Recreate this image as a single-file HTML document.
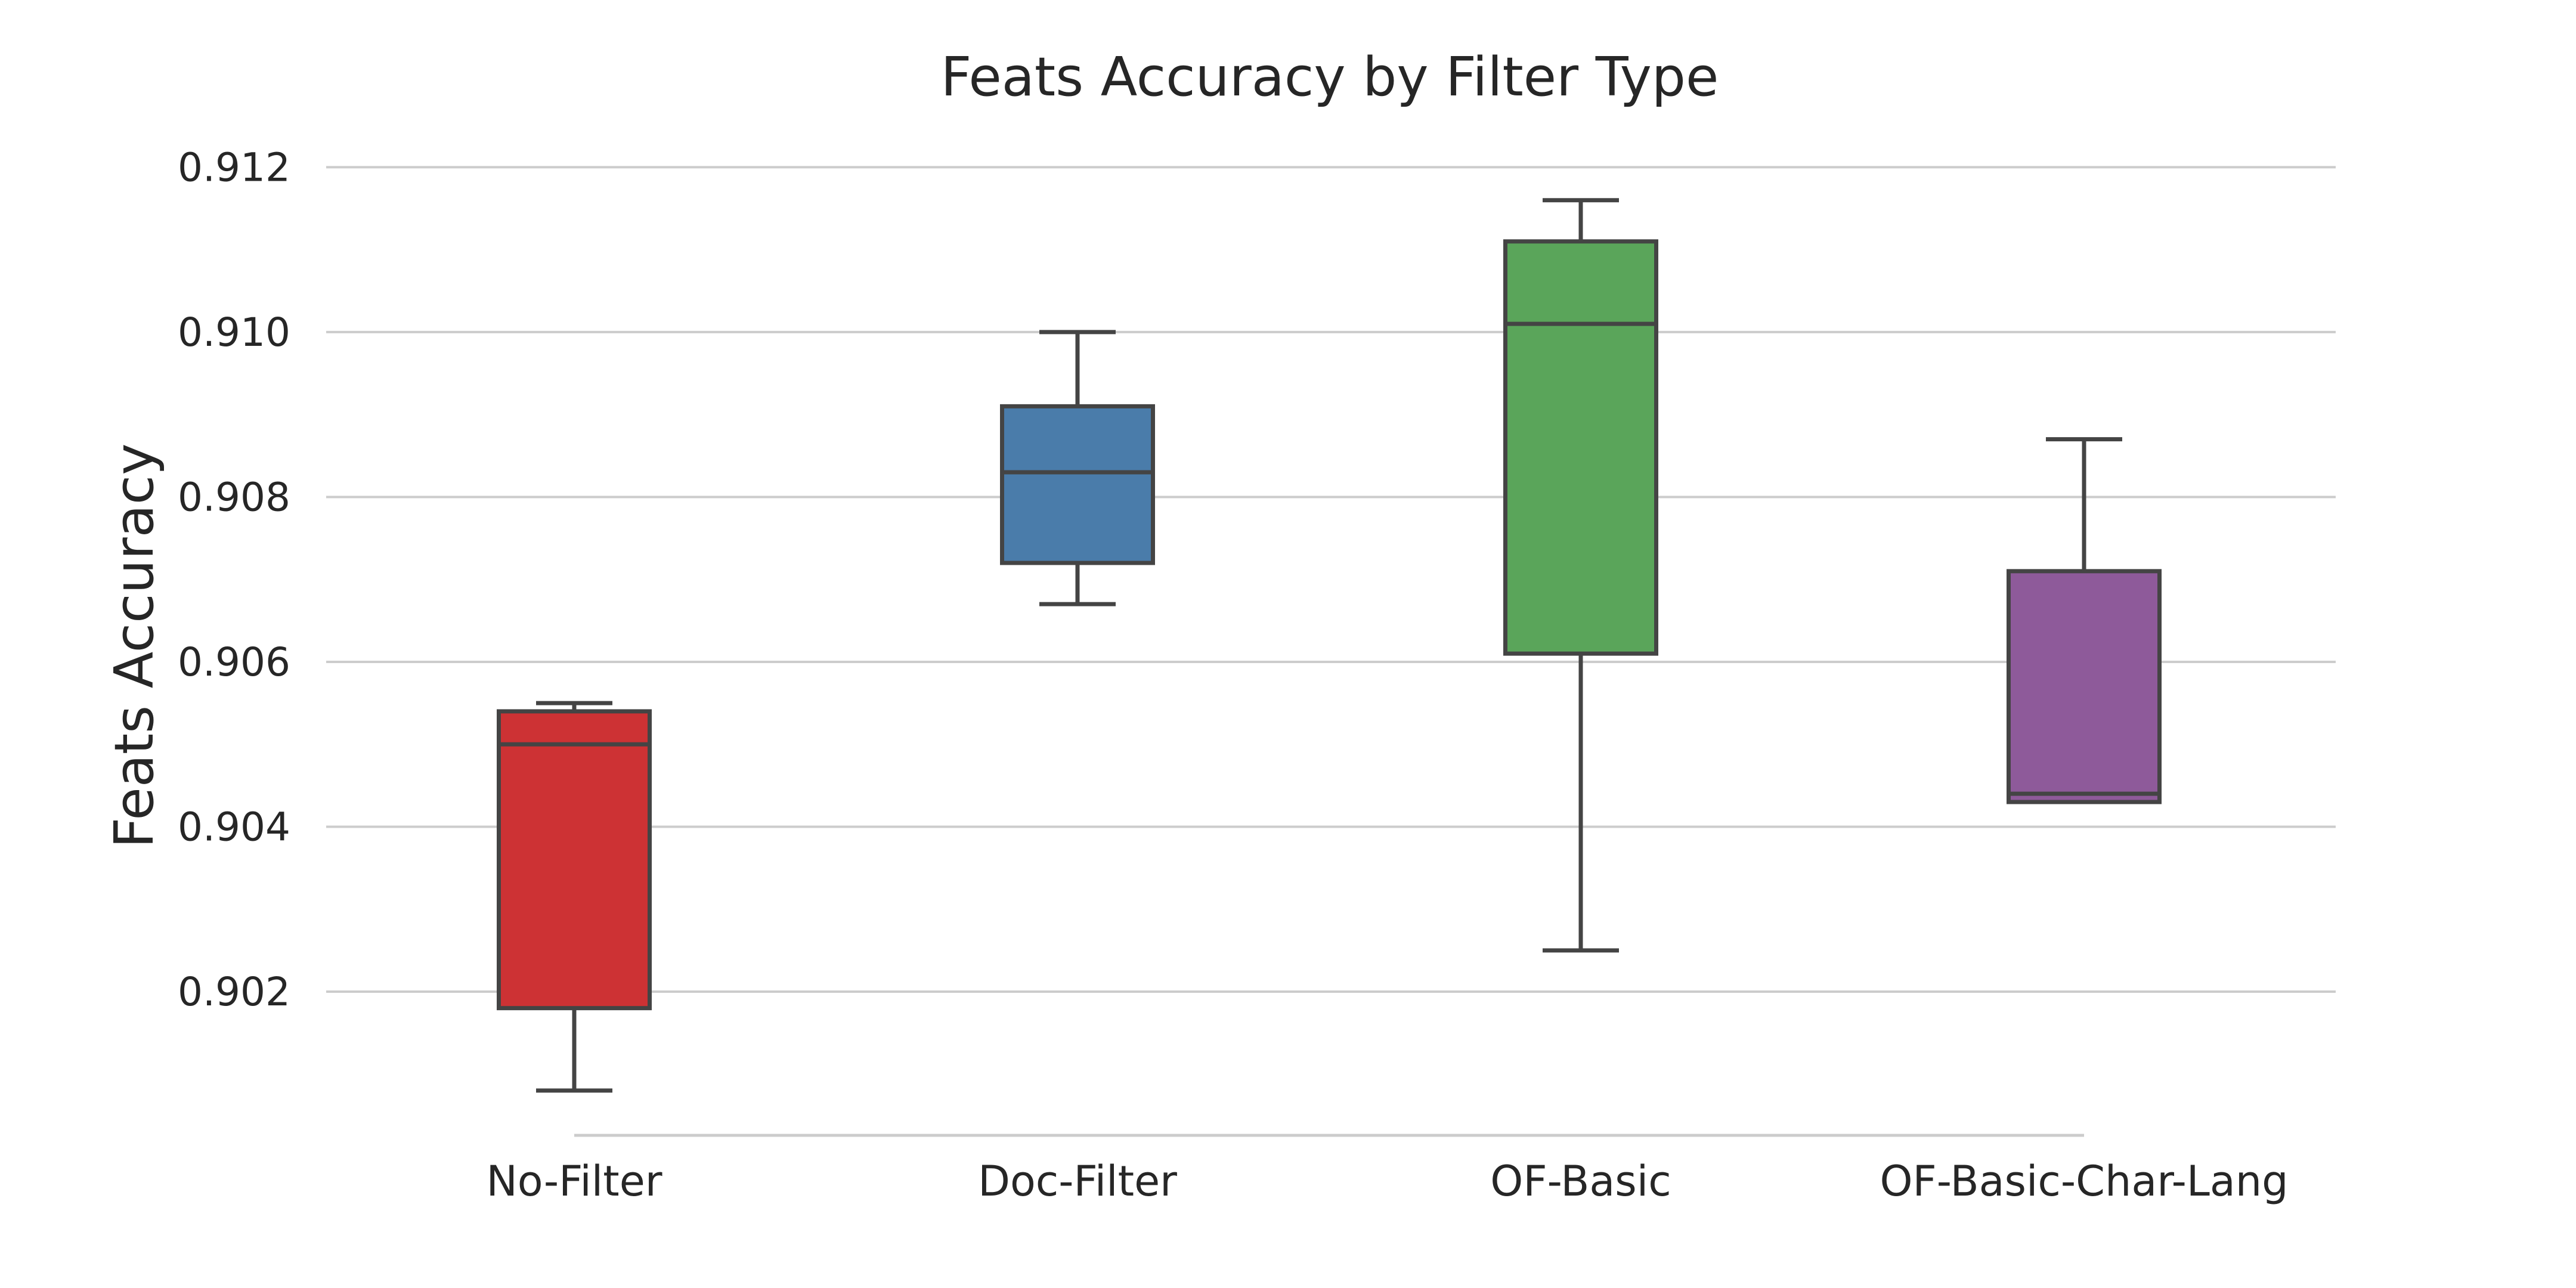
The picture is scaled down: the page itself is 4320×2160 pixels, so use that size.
<!DOCTYPE html>
<html><head><meta charset="utf-8"><style>
html,body{margin:0;padding:0;background:#fff;}
svg{display:block;font-family:"DejaVu Sans","Liberation Sans",sans-serif;}
</style></head><body>
<svg id="chart" width="4320" height="2160" viewBox="0 0 4320 2160">
<rect width="4320" height="2160" fill="#fff"/>
<text x="2230" y="160" text-anchor="middle" font-size="90" fill="#262626">Feats Accuracy by Filter Type</text>
<text transform="translate(256,1083) rotate(-90)" text-anchor="middle" font-size="90" fill="#262626">Feats Accuracy</text>
<g id="grid"></g>
<g id="boxes"></g>
</svg>
<script>
const categories = ["No-Filter","Doc-Filter","OF-Basic","OF-Basic-Char-Lang"];
const whiskerLow = [0.9008,0.9067,0.9025,0.9043];
const q1 = [0.9018,0.9072,0.9061,0.9043];
const median = [0.9050,0.9083,0.9101,0.9044];
const q3 = [0.9054,0.9091,0.9111,0.9071];
const whiskerHigh = [0.9055,0.9100,0.9116,0.9087];
const yTicks = [0.902,0.904,0.906,0.908,0.910,0.912];
const colors = ["#cd3234","#4a7caa","#5aa55a","#8e5a9a"];

const NS="http://www.w3.org/2000/svg";
function y(v){return 280.4+(0.912-v)/0.010*(1663-280.4);}
function x(i){return 963+i*844;}
function el(tag,attrs,parent){const e=document.createElementNS(NS,tag);for(const k in attrs)e.setAttribute(k,attrs[k]);parent.appendChild(e);return e;}
const grid=document.getElementById('grid'), boxes=document.getElementById('boxes');
yTicks.forEach((t,i)=>{
  const l=el('line',{x1:547,x2:3917,y1:y(t),y2:y(t),stroke:'#cccccc','stroke-width':4},grid);
  
  
  const tx=el('text',{x:487,y:y(t)+23,'text-anchor':'end','font-size':66,fill:'#262626'},grid);
  tx.textContent=t.toFixed(3);
  
  
});
const ax=el('line',{x1:x(0),x2:x(categories.length-1),y1:1904,y2:1904,stroke:'#cccccc','stroke-width':5},grid);


const bw=253, cw=128, st='#444444', sw=7;
categories.forEach((c,i)=>{
  const cx=x(i);
  const g=el('g',{},boxes);
  
  
  el('line',{x1:cx,x2:cx,y1:y(whiskerLow[i]),y2:y(q1[i]),stroke:st,'stroke-width':sw},g);
  el('line',{x1:cx,x2:cx,y1:y(q3[i]),y2:y(whiskerHigh[i]),stroke:st,'stroke-width':sw},g);
  el('line',{x1:cx-cw/2,x2:cx+cw/2,y1:y(whiskerLow[i]),y2:y(whiskerLow[i]),stroke:st,'stroke-width':sw},g);
  el('line',{x1:cx-cw/2,x2:cx+cw/2,y1:y(whiskerHigh[i]),y2:y(whiskerHigh[i]),stroke:st,'stroke-width':sw},g);
  el('rect',{x:cx-bw/2,y:y(q3[i]),width:bw,height:Math.max(0,y(q1[i])-y(q3[i])),fill:colors[i],stroke:st,'stroke-width':sw},g);
  el('line',{x1:cx-bw/2,x2:cx+bw/2,y1:y(median[i]),y2:y(median[i]),stroke:st,'stroke-width':sw},g);
  const t=el('text',{x:cx,y:2005,'text-anchor':'middle','font-size':70,fill:'#262626'},boxes);
  t.textContent=c;
  
  
});
</script>
</body></html>
